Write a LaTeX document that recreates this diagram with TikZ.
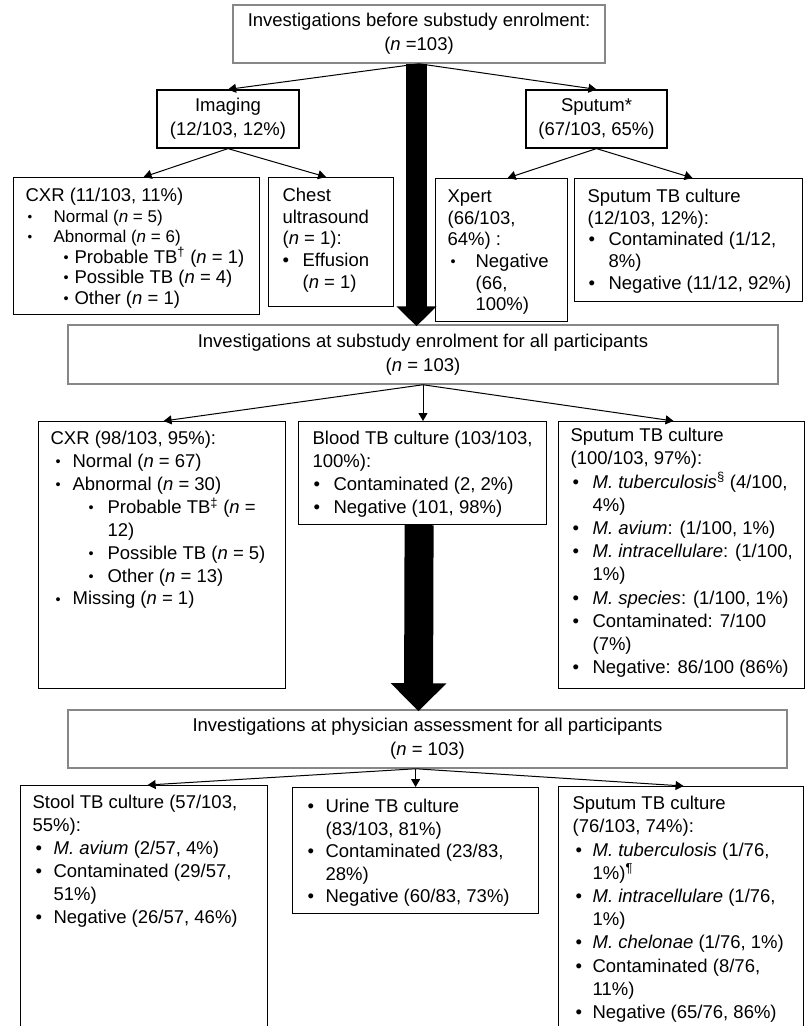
\documentclass[tikz,border=0pt]{standalone}
\usepackage{fontspec}
\setmainfont{Liberation Sans}
\usepackage{graphicx}
\usetikzlibrary{arrows.meta,calc}
\definecolor{mgray}{RGB}{135,135,135}

\newcommand{\fb}[1]{\rule{0pt}{#1pt}}
\newcommand{\bl}[3]{\par\hangindent=#2pt\hangafter=1\noindent\hspace*{#1pt}\makebox[\dimexpr#2pt-#1pt\relax][l]{\textbullet}#3}
\newcommand{\sbl}[3]{\par\hangindent=#2pt\hangafter=1\noindent\hspace*{#1pt}\makebox[\dimexpr#2pt-#1pt\relax][l]{\raisebox{0.8pt}{\scalebox{0.78}{\textbullet}}}#3}
\newcommand{\lbox}[5]{\parbox[t][#2pt][t]{#1pt}{\fontsize{18.5pt}{#4pt}\selectfont\leftskip=#3pt\relax\rightskip=0pt plus 1fil\relax\parfillskip=0pt plus 1fil\relax #5\par}}

\begin{document}
\begin{tikzpicture}[x=1pt,y=-1pt,
  mbox/.style={draw=mgray, line width=1.5pt, align=center, inner sep=0pt,
    font=\fontsize{18.5pt}{24pt}\selectfont},
  cbox/.style={draw=black, line width=1.2pt, align=center, inner sep=0pt,
    font=\fontsize{18.5pt}{24pt}\selectfont},
  lst/.style={draw=black, line width=1.2pt, inner sep=0pt, anchor=north west},
  arr/.style={line width=1pt, -{Triangle[length=8pt,width=9pt]}},
  bigA/.style={line width=21pt, -{Triangle[length=20pt,width=39pt]}},
  bigB/.style={line width=29pt, -{Triangle[length=28pt,width=54pt]}}
]
\useasboundingbox (0,0) rectangle (808,1026);
\clip (0,0) rectangle (808,1026);

% main boxes
\node[mbox, minimum width=372pt, minimum height=58pt] (m1) at (419,34)
  {Investigations before substudy enrolment:\\(\textit{n} =103)};
\node[mbox, minimum width=710pt, minimum height=59pt] (m2) at (423,354.5)
  {Investigations at substudy enrolment for all participants\\(\textit{n} = 103)};
\node[mbox, minimum width=719pt, minimum height=58pt] (m3) at (427.5,739)
  {Investigations at physician assessment for all participants\\(\textit{n} = 103)};

% second level
\node[cbox, minimum width=142pt, minimum height=58pt] (img) at (228,119)
  {Imaging\\(12/103, 12\%)};
\node[cbox, minimum width=141pt, minimum height=58pt] (spu) at (596.5,119)
  {Sputum*\\(67/103, 65\%)};

% row 1 lists
\node[lst] (cxr1) at (13,177) {\lbox{246}{137}{12}{20.5}{%
  \fb{24}CXR (11/103, 11\%)
  {\fontsize{17pt}{20.5pt}\selectfont
  \sbl{2}{28}{Normal (\textit{n} = 5)}
  \sbl{2}{28}{Abnormal (\textit{n} = 6)}\par}
  \sbl{38}{49}{Probable TB\textsuperscript{†} (\textit{n} = 1)}
  \sbl{38}{49}{Possible TB (\textit{n} = 4)}
  \sbl{38}{49}{Other (\textit{n} = 1)}}};
\node[lst] (cus) at (268,177) {\lbox{125}{129}{14}{21.6}{%
  \fb{24}Chest\\ultrasound\\(\textit{n} = 1):
  \bl{0}{20}{Effusion\\(\textit{n} = 1)}}};
\node[lst] (xpert) at (435,178) {\lbox{132}{143}{12}{21.6}{%
  \fb{24}Xpert\\(66/103,\\64\%) :
  \sbl{3}{28}{Negative\\(66,\\100\%)}}};
\node[lst] (spc1) at (574,178) {\lbox{228}{123}{13}{21.6}{%
  \fb{24}Sputum TB culture\\(12/103, 12\%):
  \bl{1}{21}{Contaminated (1/12,\\8\%)}
  \bl{1}{21}{Negative (11/12, 92\%)}}};

% row 2 lists
\node[lst] (cxr2) at (38,421) {\lbox{247}{267}{12}{22.9}{%
  \fb{23}CXR (98/103, 95\%):
  \sbl{5}{22}{Normal (\textit{n} = 67)}
  \sbl{5}{22}{Abnormal (\textit{n} = 30)}
  \sbl{38}{57}{Probable TB\textsuperscript{‡} (\textit{n} =\\12)}
  \sbl{38}{57}{Possible TB (\textit{n} = 5)}
  \sbl{38}{57}{Other (\textit{n} = 13)}
  \sbl{5}{22}{Missing (\textit{n} = 1)}}};
\node[lst] (blood) at (298,421) {\lbox{248}{103}{14}{22.9}{%
  \fb{23}Blood TB culture (103/103,\\100\%):
  \bl{1}{21}{Contaminated (2, 2\%)}
  \bl{1}{21}{Negative (101, 98\%)}}};
\node[lst] (spc2) at (558,421) {\lbox{246}{267}{12}{23.2}{%
  \fb{20}Sputum TB culture\\(100/103, 97\%):
  \bl{2}{22}{\textit{M. tuberculosis}\textsuperscript{§} (4/100,\\4\%)}
  \bl{2}{22}{\textit{M. avium}: (1/100, 1\%)}
  \bl{2}{22}{\textit{M. intracellulare}: (1/100,\\1\%)}
  \bl{2}{22}{\textit{M. species}: (1/100, 1\%)}
  \bl{2}{22}{Contaminated: 7/100\\(7\%)}
  \bl{2}{22}{Negative: 86/100 (86\%)}}};

% row 3 lists
\node[lst] (stool) at (20,785) {\lbox{247}{280}{12}{23}{%
  \fb{23}Stool TB culture (57/103,\\55\%):
  \bl{3}{21}{\textit{M. avium} (2/57, 4\%)}
  \bl{3}{21}{Contaminated (29/57,\\51\%)}
  \bl{3}{21}{Negative (26/57, 46\%)}}};
\node[lst] (urine) at (292,787) {\lbox{246}{126}{15}{22.5}{%
  \bl{0}{18}{\fb{25}Urine TB culture\\(83/103, 81\%)}
  \bl{0}{18}{Contaminated (23/83,\\28\%)}
  \bl{0}{18}{Negative (60/83, 73\%)}}};
\node[lst] (spc3) at (558,786) {\lbox{245}{280}{14}{23.2}{%
  \fb{23}Sputum TB culture\\(76/103, 74\%):
  \bl{3}{20}{\textit{M. tuberculosis} (1/76,\\1\%)\textsuperscript{¶}}
  \bl{3}{20}{\textit{M. intracellulare} (1/76,\\1\%)}
  \bl{3}{20}{\textit{M. chelonae} (1/76, 1\%)}
  \bl{3}{20}{Contaminated (8/76,\\11\%)}
  \bl{3}{20}{Negative (65/76, 86\%)}}};

% thin connectors
\draw[arr] (m1.south) -- (img.north);
\draw[arr] (m1.south) -- (spu.north);
\draw[arr] (img.south) -- ([xshift=7pt]cxr1.north);
\draw[arr] (img.south) -- ([xshift=-5pt]cus.north);
\draw[arr] (spu.south) -- ([xshift=6pt]xpert.north);
\draw[arr] (spu.south) -- ([xshift=4pt]spc1.north);
\draw[arr] (m2.south) -- ([xshift=1.5pt]cxr2.north);
\draw[arr] (m2.south) -- (m2.south |- blood.north);
\draw[arr] (m2.south) -- ([xshift=-8pt]spc2.north);
\coordinate (m3s) at (urine.north |- m3.south);
\draw[arr] (m3s) -- ([xshift=3.5pt]stool.north);
\draw[arr] (m3s) -- (urine.north);
\draw[arr] (m3s) -- ([xshift=2.5pt]spc3.north);

% thick arrows
\draw[bigA] ([xshift=-2.5pt]m1.south) -- ([xshift=-6.5pt,yshift=-2pt]m2.north);
\draw[bigB] ([xshift=-3.5pt]blood.south) -- ([xshift=-9pt,yshift=-2pt]m3.north);
\end{tikzpicture}
\end{document}
